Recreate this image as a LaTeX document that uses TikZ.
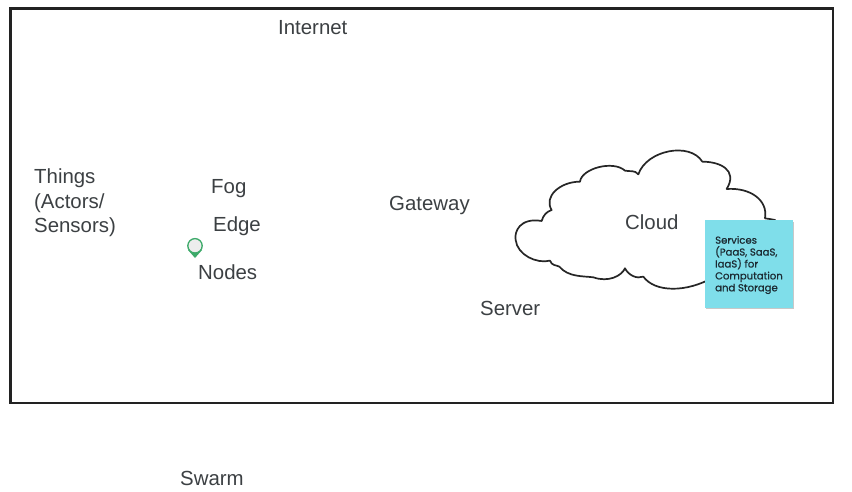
\documentclass[tikz,border=0pt]{standalone}
\usepackage{fontspec}
\setmainfont{Liberation Sans}
\newfontfamily\notefont[FakeBold=0.9]{Poppins}
\definecolor{labelgrey}{HTML}{3C4043}
\definecolor{framegrey}{HTML}{222222}
\definecolor{notecyan}{HTML}{7FDEEA}
\definecolor{notetext}{HTML}{1C2B33}
\definecolor{pingreen}{HTML}{3DAA6A}
\definecolor{shadowgrey}{HTML}{C8C8C8}
\tikzset{
  lbl/.style={anchor=west,inner sep=0pt,text=labelgrey,font=\fontsize{20.4}{24.5}\selectfont,align=left},
  frameline/.style={draw=framegrey,line width=2.6pt},
  cloudline/.style={draw=black!85,line width=1.7pt,line join=round,fill=white},
  notebox/.style={fill=notecyan,minimum width=88pt,minimum height=88pt,inner sep=0pt},
  notelbl/.style={anchor=north west,inner sep=0pt,text=notetext,align=left,font=\notefont\fontsize{10.1}{11.9}\selectfont}
}
\begin{document}
\begin{tikzpicture}[x=1pt,y=-1pt]
\useasboundingbox (0,0) rectangle (852,492);
\fill[white] (0,0) rectangle (852,492);
\draw[frameline] (10.5,8.5) rectangle (833,403);
% cloud
\begin{scope}[shift={(500,140)},x=0.3333pt,y=-0.3333pt]
\path[cloudline] (125,243)
  .. controls (60,232) and (42,275) .. (47,300)
  .. controls (52,345) and (110,372) .. (150,362)
  .. controls (155,378) and (170,375) .. (178,380)
  .. controls (205,412) and (250,408) .. (280,412)
  .. controls (325,428) and (365,408) .. (375,385)
  .. controls (385,405) and (410,418) .. (430,410)
  .. controls (465,458) and (560,458) .. (640,412)
  -- (825,240)
  .. controls (815,238) and (805,236) .. (795,235)
  .. controls (805,180) and (750,142) .. (680,147)
  .. controls (715,90) and (660,65) .. (607,65)
  .. controls (570,5) and (440,30) .. (415,103)
  .. controls (405,90) and (390,95) .. (375,92)
  .. controls (340,60) and (245,85) .. (240,125)
  .. controls (180,125) and (130,170) .. (155,210)
  .. controls (140,215) and (130,225) .. (125,243) -- cycle;
\end{scope}
% pin
\path[fill=pingreen] (188,250) -- (195,258) -- (202,250) -- cycle;
\path[fill=white!93!black,draw=pingreen,line width=1.3pt] (195,245.8) circle (7.2);
% note
\fill[shadowgrey] (705.5,221.5) rectangle (794,309.3);
\node[notebox,anchor=north west] (note) at (705,220) {};
\node[notelbl] (notetxt) at (715,235.8) {Services\\(PaaS, SaaS,\\IaaS) for\\Computation\\and Storage};
% labels
\node[lbl] (internet) at (278,28) {Internet};
\node[lbl] (things) at (34,203) {Things\\(Actors/\\Sensors)};
\node[lbl] (fog) at (211,189) {Fog};
\node[lbl] (edge) at (213,226) {Edge};
\node[lbl] (nodes) at (198,272) {Nodes};
\node[lbl] (gateway) at (389,205) {Gateway};
\node[lbl] (server) at (480,308) {Server};
\node[lbl] (cloud) at (625,222) {Cloud};
\node[lbl] (swarm) at (180,478) {Swarm};
\end{tikzpicture}
\end{document}
